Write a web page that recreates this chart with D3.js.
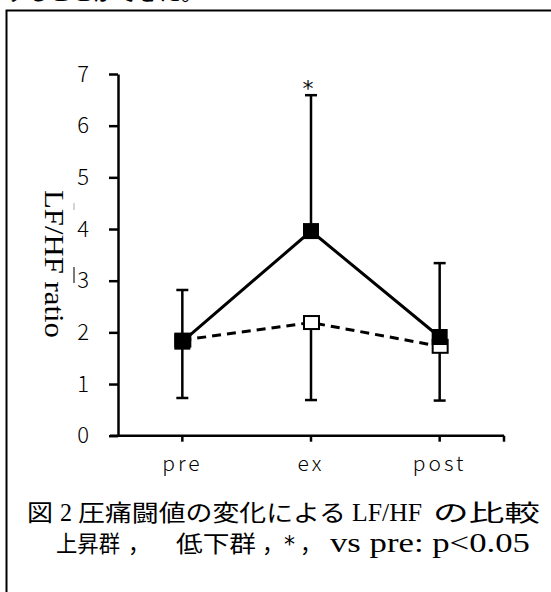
<!DOCTYPE html>
<html><head><meta charset="utf-8">
<script src="https://cdn.jsdelivr.net/npm/d3@7"></script>
<style>
html,body{margin:0;padding:0;background:#fff;}
svg{display:block;}
</style></head>
<body>
<svg id="c" width="551" height="592"></svg>
<script>
// ---- data ----
const categories = ["pre", "ex", "post"];
const riseMean = [1.82, 3.96, 1.91];   // 上昇群 (filled, solid)
const riseSD   = [1.00, 2.63, 1.43];   // upper error bars
const fallMean = [1.85, 2.19, 1.73];   // 低下群 (open, dashed)
const fallSD   = [1.12, 1.50, 1.05];   // lower error bars
const yTicks = [0, 1, 2, 3, 4, 5, 6, 7];
const sigMark = ["", "*", ""];
const yLabel = "LF/HF ratio";
const captionLine1 = [
  {t: "図", f: "cjk", x: 27, w: 26},
  {t: "2", f: "serif", x: 60, w: 12},
  {t: "圧痛闘値の変化による", f: "cjk", x: 78, w: 268},
  {t: "LF/HF", f: "serif", x: 352, w: 70},
  {t: "の比較", f: "cjk", x: 433, w: 107}
];
const captionLine2 = [
  {t: "上昇群", f: "cjk", x: 56, w: 64},
  {t: "，", f: "cjk", x: 128, w: 22},
  {t: "低下群", f: "cjk", x: 176, w: 80},
  {t: "，", f: "cjk", x: 262, w: 22},
  {t: "*", f: "ast", x: 284, w: 11},
  {t: "，", f: "cjk", x: 300, w: 22},
  {t: "vs pre: p<0.05", f: "serif", x: 330, w: 200}
];
const topText = "することができた。";

// ---- drawing ----
const svg = d3.select("#c");
const SANS = "'Noto Sans CJK JP', 'DejaVu Sans', sans-serif";
const SERIF = "'Liberation Serif', 'DejaVu Serif', serif";
const AST = "'DejaVu Sans', sans-serif";

svg.append("rect").attr("x", 0).attr("y", 0).attr("width", 551).attr("height", 592).attr("fill", "#fff");

// cut-off text at very top
svg.append("text").attr("x", 5).attr("y", -0.5).attr("font-family", SANS).attr("font-size", 22)
  .attr("fill", "#000").text(topText);

// frame
svg.append("rect").attr("x", 6.5).attr("y", 10.5).attr("width", 700).attr("height", 700)
  .attr("fill", "none").attr("stroke", "#000").attr("stroke-width", 2);

const x = d3.scaleBand().domain(categories).range([118, 504]);
const y = d3.scaleLinear().domain([0, 7]).range([435.7, 74]);
const cx = d => x(d) + x.bandwidth() / 2;

// y axis
const yAxis = d3.axisLeft(y).tickValues(yTicks).tickSize(9).tickSizeOuter(0).tickPadding(20).tickFormat(d3.format("d"));
const gy = svg.append("g").attr("transform", "translate(118,0)").call(yAxis);
gy.select(".domain").attr("stroke-width", 2.5);
gy.selectAll(".tick line").attr("stroke-width", 2.5);
gy.selectAll(".tick text").attr("font-family", SANS).attr("font-weight", 300).attr("font-size", 22).attr("fill", "#000");

// x axis
const xAxis = d3.axisBottom(x).tickSize(6).tickSizeOuter(0).tickPadding(14);
const gx = svg.append("g").attr("transform", `translate(0,${y(0)})`).call(xAxis);
gx.select(".domain").remove();
gx.selectAll(".tick line").attr("stroke-width", 2.5);
gx.selectAll(".tick text").attr("font-family", SANS).attr("font-weight", 300).attr("font-size", 21)
  .attr("letter-spacing", 3).attr("fill", "#000");
gx.append("line").attr("x1", 110).attr("x2", x.range()[1]).attr("y1", 0).attr("y2", 0)
  .attr("stroke", "#000").attr("stroke-width", 2.5);
gx.append("line").attr("x1", x.range()[1]).attr("x2", x.range()[1]).attr("y1", 0).attr("y2", 6)
  .attr("stroke", "#000").attr("stroke-width", 2.5);

// y label (rotated)
svg.append("text").attr("transform", `translate(45,${(190 + 338) / 2}) rotate(90)`)
  .attr("text-anchor", "middle").attr("font-family", SERIF).attr("font-size", 28).attr("fill", "#000")
  .attr("textLength", 148).attr("lengthAdjust", "spacingAndGlyphs")
  .text(yLabel);
// small artifacts near label
svg.append("line").attr("x1", 74).attr("x2", 74).attr("y1", 267).attr("y2", 283).attr("stroke", "#333").attr("stroke-width", 1.3);
svg.append("line").attr("x1", 74).attr("x2", 74).attr("y1", 203).attr("y2", 210).attr("stroke", "#aaa").attr("stroke-width", 1);

const line = d3.line().x((d, i) => cx(categories[i])).y(d => y(d));

// lines
svg.append("path").datum(fallMean).attr("d", line).attr("fill", "none").attr("stroke", "#000")
  .attr("stroke-width", 3).attr("stroke-dasharray", "9,6");
svg.append("path").datum(riseMean).attr("d", line).attr("fill", "none").attr("stroke", "#000")
  .attr("stroke-width", 3);

// error bars
const cap = 6;
function errBar(mean, sd, dir) {
  const g = svg.append("g");
  categories.forEach((c, i) => {
    const x0 = cx(c), y0 = y(mean[i]), y1 = y(mean[i] + dir * sd[i]);
    g.append("line").attr("x1", x0).attr("x2", x0).attr("y1", y0).attr("y2", y1).attr("stroke", "#000").attr("stroke-width", 2.5);
    g.append("line").attr("x1", x0 - cap).attr("x2", x0 + cap).attr("y1", y1).attr("y2", y1).attr("stroke", "#000").attr("stroke-width", 2.5);
  });
}
errBar(riseMean, riseSD, 1);
errBar(fallMean, fallSD, -1);

// markers
const ms = 15;
svg.append("g").selectAll("rect").data(fallMean).join("rect")
  .attr("x", (d, i) => cx(categories[i]) - ms / 2 + 0.5).attr("y", d => y(d) - 6.5)
  .attr("width", ms).attr("height", 13).attr("fill", "#fff").attr("stroke", "#000").attr("stroke-width", 2);
svg.append("g").selectAll("rect").data(riseMean).join("rect")
  .attr("x", (d, i) => cx(categories[i]) - 8).attr("y", d => y(d) - 8)
  .attr("width", 16).attr("height", 16).attr("fill", "#000");

// significance mark
svg.append("g").selectAll("text").data(sigMark).join("text")
  .attr("x", (d, i) => cx(categories[i]) - 3).attr("y", (d, i) => y(riseMean[i] + riseSD[i]) + 1)
  .attr("text-anchor", "middle").attr("font-family", AST).attr("font-size", 22).attr("fill", "#111").text(d => d);

// caption
function caption(segs, baseline, size, serifSize) {
  segs.forEach(s => {
    const fam = s.f === "serif" ? SERIF : (s.f === "ast" ? AST : SANS);
    svg.append("text").attr("x", s.x).attr("y", baseline)
      .attr("font-family", fam).attr("font-size", s.f === "serif" ? serifSize : size).attr("fill", "#000")
      .attr("textLength", s.w).attr("lengthAdjust", "spacingAndGlyphs").text(s.t);
  });
}
caption(captionLine1, 521, 23, 26);
caption(captionLine2, 552, 23, 27);
</script>
</body></html>
